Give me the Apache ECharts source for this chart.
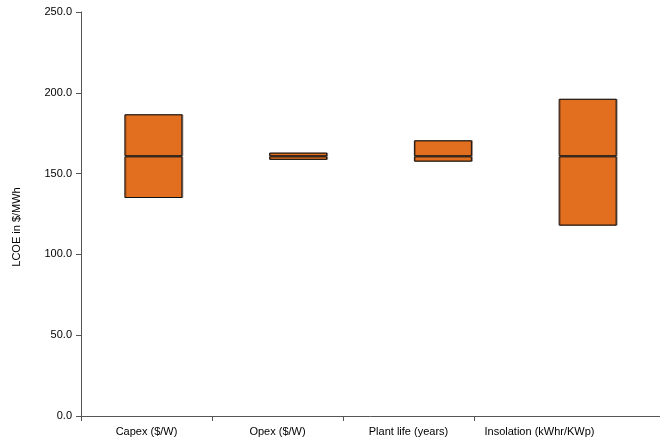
<!DOCTYPE html>
<html><head><meta charset="utf-8">
<script src="https://cdn.jsdelivr.net/npm/echarts@6/dist/echarts.min.js"></script>
<style>html,body{margin:0;padding:0;background:#fff}#c{width:660px;height:440px}</style>
</head><body><div id="c"></div>
<script>
const categories = ["Capex ($/W)", "Opex ($/W)", "Plant life (years)", "Insolation (kWhr/KWp)"];
const lowValues = [134.9, 158.5, 157.4, 117.8];
const medianValues = [160.7, 160.7, 160.7, 160.7];
const highValues = [186.7, 163.0, 170.6, 196.3];
const yAxisTitle = 'LCOE in $/MWh';

const base = lowValues;
const lowerPart = medianValues.map((m, i) => m - lowValues[i]);
const upperPart = highValues.map((h, i) => h - medianValues[i]);

const boxStyle = { color: '#E26E1F', borderColor: '#111', borderWidth: 1,
  shadowColor: 'rgba(60,30,10,0.45)', shadowOffsetX: 1, shadowOffsetY: 0, shadowBlur: 0 };

const chart = echarts.init(document.getElementById('c'), null, { renderer: 'canvas' });
chart.setOption({
  animation: false,
  textStyle: { fontFamily: 'Liberation Sans, Arial, sans-serif' },
  grid: [
    { left: 81, right: 55, top: 12, bottom: 24 },
    { left: 81, right: -3, top: 12, bottom: 24 },
    { left: 81, right: 186, top: 12, bottom: 24 }
  ],
  graphic: [{
    type: 'text', x: 17, y: 227, rotation: Math.PI / 2,
    style: { text: yAxisTitle, fill: '#000', font: '11px "Liberation Sans", Arial, sans-serif',
      textAlign: 'center', textVerticalAlign: 'middle' }
  }],
  xAxis: [
    {
      type: 'category', data: categories, boundaryGap: true, gridIndex: 0,
      axisLine: { show: false }, axisTick: { show: false },
      axisLabel: { color: '#000', fontSize: 11, margin: 10, interval: 0 }
    },
    {
      type: 'category', data: categories, boundaryGap: true, gridIndex: 1,
      axisLine: { show: true, lineStyle: { color: '#555', width: 1 } },
      axisTick: { show: false }, axisLabel: { show: false }
    },
    {
      type: 'value', min: 0, max: 3, interval: 1, gridIndex: 2,
      axisLine: { show: false }, splitLine: { show: false }, axisLabel: { show: false },
      axisTick: { show: true, length: 5, lineStyle: { color: '#555' } }
    }
  ],
  yAxis: [
    {
      type: 'value', min: 0, max: 250, interval: 50, gridIndex: 0,
      axisLine: { show: true, lineStyle: { color: '#555', width: 1 } },
      axisTick: { show: true, length: 5, lineStyle: { color: '#555' } },
      splitLine: { show: false },
      axisLabel: { color: '#000', fontSize: 11, margin: 9, formatter: v => v.toFixed(1) }
    },
    {
      type: 'value', min: 0, max: 250, interval: 50, gridIndex: 1,
      axisLine: { show: false }, axisTick: { show: false },
      axisLabel: { show: false }, splitLine: { show: false }
    },
    {
      type: 'value', min: 0, max: 250, interval: 50, gridIndex: 2,
      axisLine: { show: false }, axisTick: { show: false },
      axisLabel: { show: false }, splitLine: { show: false }
    }
  ],
  series: [
    { type: 'bar', stack: 'b', xAxisIndex: 1, yAxisIndex: 1, data: base, barWidth: 58,
      itemStyle: { color: 'transparent' }, silent: true },
    { type: 'bar', stack: 'b', xAxisIndex: 1, yAxisIndex: 1, data: lowerPart, barWidth: 58, itemStyle: boxStyle },
    { type: 'bar', stack: 'b', xAxisIndex: 1, yAxisIndex: 1, data: upperPart, barWidth: 58, itemStyle: boxStyle }
  ]
});
</script></body></html>
